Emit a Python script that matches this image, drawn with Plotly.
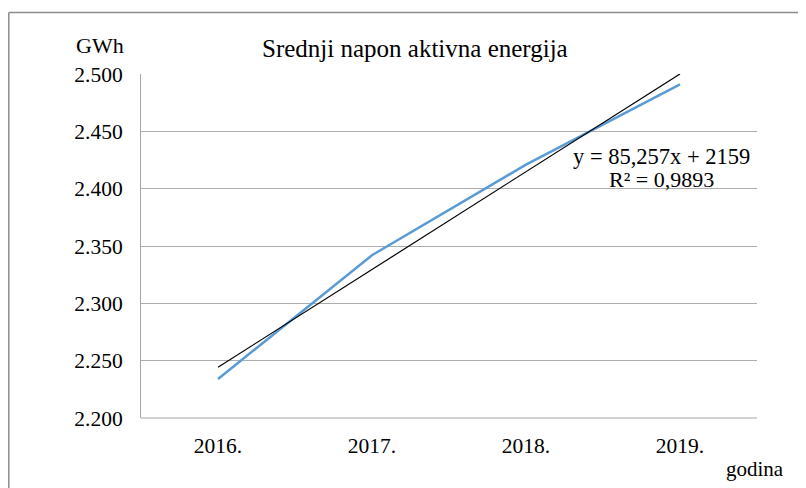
import plotly.graph_objects as go

years = ["2016.", "2017.", "2018.", "2019."]
energy = [2234, 2342, 2421, 2491]
trend_slope = 85.257
trend_intercept = 2159
r_squared = "0,9893"
y_ticks = [2200, 2250, 2300, 2350, 2400, 2450, 2500]

trend_vals = [trend_slope * (i + 1) + trend_intercept for i in range(len(years))]

FONT = "Liberation Serif, Times New Roman, serif"

fig = go.Figure()
fig.add_trace(go.Scatter(x=years, y=energy, mode="lines",
                         line=dict(color="#5B9BD5", width=2.5), showlegend=False))
fig.add_trace(go.Scatter(x=years, y=trend_vals, mode="lines",
                         line=dict(color="black", width=1.2), showlegend=False))

OFF = 8  # page body margin
W, H = 806 - OFF, 488 - OFF
L = 141 - OFF
T = 74 - OFF
R = W - (757 - OFF)
B = H - (418 - OFF)
pw, ph = W - L - R, H - T - B

def px(x):
    return (x - OFF - L) / pw

def py(y):
    return (H - B - (y - OFF)) / ph

frame = dict(color="#8C8C8C", width=1.5)

fig.update_layout(
    width=W, height=H,
    margin=dict(l=L, r=R, t=T, b=B),
    plot_bgcolor="white", paper_bgcolor="white",
    separators=",.",
    font=dict(family=FONT, size=21, color="black"),
    xaxis=dict(type="category", range=[-0.5, 3.5], showgrid=False,
               showline=False, ticks="", ticklabelstandoff=12,
               tickfont=dict(size=21.5)),
    yaxis=dict(range=[2200, 2500], tickvals=y_ticks, tickformat=",d",
               showgrid=True, gridcolor="#ADADAD", gridwidth=1,
               showline=True, linecolor="#A6A6A6", linewidth=1,
               zeroline=False, ticks="", ticklabelstandoff=13,
               tickfont=dict(size=21.5)),
    shapes=[
        dict(type="line", xref="paper", yref="paper",
             x0=px(8.8), x1=px(806), y0=py(12.5), y1=py(12.5), line=frame),
        dict(type="line", xref="paper", yref="paper",
             x0=px(8.8), x1=px(8.8), y0=py(12.5), y1=py(488), line=frame),
        dict(type="line", xref="paper", yref="paper",
             x0=0, x1=1, y0=0, y1=0, line=dict(color="#A6A6A6", width=1)),
    ],
    annotations=[
        dict(text="Srednji napon aktivna energija", xref="paper", yref="paper",
             x=px(415), y=py(48), showarrow=False, font=dict(size=25),
             xanchor="center", yanchor="middle"),
        dict(text="GWh", xref="paper", yref="paper", x=px(100), y=py(45),
             showarrow=False, font=dict(size=22), xanchor="center", yanchor="middle"),
        dict(text="godina", xref="paper", yref="paper", x=px(755), y=py(469),
             showarrow=False, font=dict(size=21), xanchor="center", yanchor="middle"),
        dict(text=f"y = {str(trend_slope).replace('.', ',')}x + {trend_intercept}",
             xref="paper", yref="paper", x=px(661), y=py(156),
             showarrow=False, font=dict(size=22.5), xanchor="center", yanchor="middle"),
        dict(text=f"R² = {r_squared}", xref="paper", yref="paper", x=px(661), y=py(179),
             showarrow=False, font=dict(size=22), xanchor="center", yanchor="middle"),
    ],
)

fig.write_html("out.html")
